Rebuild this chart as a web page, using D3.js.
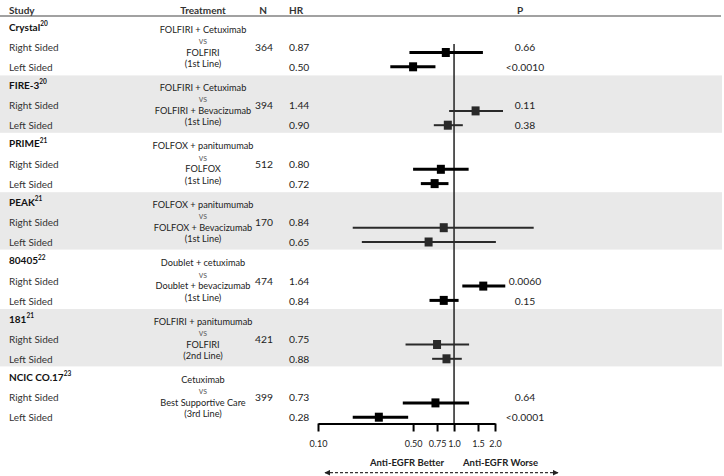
<!DOCTYPE html>
<html><head><meta charset="utf-8">
<script src="https://cdn.jsdelivr.net/npm/d3@7"></script>
<style>
html,body{margin:0;padding:0;background:#fff;}
svg{display:block;font-family:Lato,"Open Sans",sans-serif;}
</style></head>
<body>
<svg id="chart" width="724" height="476"></svg>
<script>
// ---- data ----
const studies = ["Crystal","FIRE-3","PRIME","PEAK","80405","181","NCIC CO.17"];
const refs = ["20","20","21","21","22","21","23"];
const treatLine1 = ["FOLFIRI + Cetuximab","FOLFIRI + Cetuximab","FOLFOX + panitumumab","FOLFOX + panitumumab","Doublet + cetuximab","FOLFIRI + panitumumab","Cetuximab"];
const treatLine2 = ["FOLFIRI","FOLFIRI + Bevacizumab","FOLFOX","FOLFOX + Bevacizumab","Doublet + bevacizumab","FOLFIRI","Best Supportive Care"];
const treatLine3 = ["(1st Line)","(1st Line)","(1st Line)","(1st Line)","(1st Line)","(2nd Line)","(3rd Line)"];
const nValues = [364,394,512,170,474,421,399];
const hrRight = [0.87,1.44,0.80,0.84,1.64,0.75,0.73];
const hrLeft  = [0.50,0.90,0.72,0.65,0.84,0.88,0.28];
const ciRightLow  = [0.47,0.92,0.50,0.18,1.15,0.44,0.42];
const ciRightHigh = [1.63,2.29,1.28,3.85,2.38,1.29,1.29];
const ciLeftLow   = [0.34,0.71,0.57,0.21,0.66,0.69,0.18];
const ciLeftHigh  = [0.73,1.16,0.91,2.03,1.08,1.14,0.46];
const pRight = ["0.66","0.11","","","0.0060","","0.64"];
const pLeft  = ["<0.0010","0.38","","","0.15","","<0.0001"];
const tickValues = [0.10,0.50,0.75,1.0,1.5,2.0];
const tickLabels = ["0.10","0.50","0.75","1.0","1.5","2.0"];
const headers = ["Study","Treatment","N","HR","P"];
const betterLabel = "Anti-EGFR Better";
const worseLabel = "Anti-EGFR Worse";

// ---- layout ----
const svg = d3.select("#chart");
const x = d3.scaleLog().domain([0.1, 2]).range([318, 495]);
const groupTop = d3.scaleLinear().domain([0, 1]).range([17, 75.4]);
const axisY = 423.5;
const leftX = 9;

const groups = studies.map((s, i) => ({
  i, study: s, ref: refs[i],
  t: [treatLine1[i], "vs", treatLine2[i], treatLine3[i]],
  n: nValues[i],
  rows: [
    {label: "Right Sided", hr: hrRight[i], lo: ciRightLow[i], hi: ciRightHigh[i], p: pRight[i], dy: 30, my: 35.5},
    {label: "Left Sided",  hr: hrLeft[i],  lo: ciLeftLow[i],  hi: ciLeftHigh[i],  p: pLeft[i],  dy: 50, my: 49.8}
  ]
}));

// bands
svg.selectAll("rect.band").data(groups.filter(g => g.i % 2 === 1)).join("rect")
  .attr("class","band")
  .attr("x", 0).attr("width", 722)
  .attr("y", g => groupTop(g.i))
  .attr("height", 57.4)
  .attr("fill", "#e9e9e9");

// header
const hx = [leftX, 203, 263, 296, 520];
const ha = ["start","middle","middle","middle","middle"];
svg.selectAll("text.hdr").data(headers).join("text")
  .attr("class","hdr")
  .attr("x", (d, i) => hx[i]).attr("y", 9.5)
  .attr("dominant-baseline","central")
  .attr("text-anchor", (d, i) => ha[i])
  .attr("font-size", 10).attr("font-weight", "bold").attr("fill", "#333")
  .text(d => d);
svg.append("line").attr("x1", 0).attr("x2", 721).attr("y1", 16).attr("y2", 16)
  .attr("stroke", "#444").attr("stroke-width", 1.2);

// vertical reference line
svg.append("line").attr("x1", x(1)).attr("x2", x(1)).attr("y1", 44).attr("y2", axisY)
  .attr("stroke", "#222").attr("stroke-width", 1.5);

const gSel = svg.selectAll("g.grp").data(groups).join("g")
  .attr("class","grp")
  .attr("transform", g => `translate(0,${groupTop(g.i)})`);

// study title
const title = gSel.append("text").attr("x", leftX).attr("y", 9.5)
  .attr("dominant-baseline","central")
  .attr("font-size", 10).attr("font-weight","bold").attr("fill","#111");
title.append("tspan").text(g => g.study);
title.append("tspan").attr("font-size", 6.5).attr("dy", -3.5).text(g => g.ref);

// treatment lines
const tOff = [12, 23.5, 35, 46.5];
gSel.each(function(g) {
  const sel = d3.select(this);
  g.t.forEach((t, k) => {
    sel.append("text").attr("x", 203).attr("y", tOff[k])
      .attr("dominant-baseline","central").attr("text-anchor","middle")
      .attr("font-size", k === 1 ? 8.8 : 9.2)
      .attr("fill", k === 1 ? "#666" : "#222")
      .text(t);
  });
});

// N
gSel.append("text").attr("x", 264).attr("y", 30)
  .attr("dominant-baseline","central").attr("text-anchor","middle")
  .attr("font-size", 10.3).attr("fill","#222").text(g => g.n);

// rows
const rSel = gSel.selectAll("g.row").data(g => g.rows.map(r => Object.assign({gi: g.i}, r))).join("g").attr("class","row");
rSel.append("text").attr("x", leftX).attr("y", r => r.dy)
  .attr("dominant-baseline","central")
  .attr("font-size", 10).attr("fill","#333").text(r => r.label);
rSel.append("text").attr("x", 289).attr("y", r => r.dy)
  .attr("dominant-baseline","central")
  .attr("font-size", 10.3).attr("fill","#222").text(r => d3.format(".2f")(r.hr));
rSel.append("text").attr("x", 525).attr("y", r => r.dy)
  .attr("dominant-baseline","central").attr("text-anchor","middle")
  .attr("font-size", 10.3).attr("fill","#222").text(r => r.p);
rSel.append("line")
  .attr("x1", r => x(r.lo)).attr("x2", r => x(r.hi))
  .attr("y1", r => r.my).attr("y2", r => r.my)
  .attr("stroke", r => r.gi % 2 ? "#2a2a2a" : "#000")
  .attr("stroke-width", r => r.gi % 2 ? 2 : 3);
rSel.append("rect")
  .attr("x", r => x(r.hr) - 4).attr("y", r => r.my - 4.5)
  .attr("width", 8).attr("height", 9)
  .attr("fill", r => r.gi % 2 ? "#2a2a2a" : "#000");

// axis
const axis = d3.axisBottom(x).tickValues(tickValues)
  .tickFormat((d, i) => tickLabels[i]).tickSize(8).tickSizeOuter(0).tickPadding(9);
const ax = svg.append("g").attr("transform", `translate(0,${axisY})`).call(axis);
ax.select(".domain").attr("stroke", "#000").attr("stroke-width", 2);
ax.selectAll(".tick line").attr("stroke", "#000").attr("stroke-width", 2);
ax.selectAll(".tick text").attr("font-size", 9).attr("fill", "#222")
  .attr("font-family", "Lato, sans-serif");

// direction labels
svg.append("text").attr("x", 444).attr("y", 462.5).attr("text-anchor","end")
  .attr("dominant-baseline","central").attr("font-size", 9.5).attr("font-weight","bold")
  .attr("fill","#222").text(betterLabel);
svg.append("text").attr("x", 463).attr("y", 462.5).attr("text-anchor","start")
  .attr("dominant-baseline","central").attr("font-size", 9.5).attr("font-weight","bold")
  .attr("fill","#222").text(worseLabel);

// dashed double arrow
const defs = svg.append("defs");
defs.append("marker").attr("id","arr").attr("viewBox","0 0 10 10")
  .attr("refX", 9).attr("refY", 5).attr("markerWidth", 5).attr("markerHeight", 5)
  .attr("orient","auto-start-reverse")
  .append("path").attr("d","M0,0 L10,5 L0,10 Z").attr("fill","#222");
svg.append("line").attr("x1", 325).attr("x2", 558).attr("y1", 472.7).attr("y2", 472.7)
  .attr("stroke","#333").attr("stroke-width", 1.2).attr("stroke-dasharray","3,2")
  .attr("marker-start","url(#arr)").attr("marker-end","url(#arr)");
</script>
</body></html>
